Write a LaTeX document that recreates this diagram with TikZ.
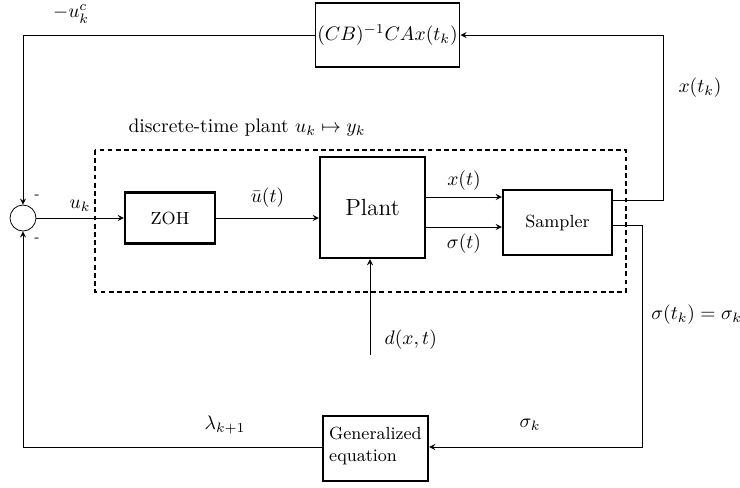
\documentclass[tikz,border=0pt]{standalone}
\usepackage{amsmath}
\usetikzlibrary{shapes.geometric, arrows}
\tikzstyle{block} = [rectangle, draw=black, line width=1.2pt, text centered, inner sep=2pt]
\tikzstyle{sumnode} = [circle, draw=black, minimum size=0.468cm, inner sep=0pt]
\tikzstyle{arrow} = [->, >=stealth]
\tikzstyle{plantbox} = [line width=0.6pt, dash pattern=on 2.4pt off 1.8pt]

\begin{document}
\begin{tikzpicture}

            \useasboundingbox (0,0) rectangle (13.32,-8.766);

            \node (sum) [sumnode] at (0.414,-3.924) {};

            \node (zoh) [block, minimum width=1.62cm, minimum height=0.918cm, font=\small] at (3.06,-3.924) {ZOH};

            \node (plant) [block, minimum width=1.89cm, minimum height=1.818cm, font=\large] at (6.705,-3.735) {Plant};

            \node (sampler) [block, minimum width=1.962cm, minimum height=1.17cm, font=\small] at (10.035,-4.005) {Sampler};

            \node (ctrl) [block, line width=0.9pt, inner sep=1pt, minimum width=2.43cm, minimum height=1.152cm] at (6.975,-0.63) {$(CB)^{-1}CAx(t_k)$};

            \node (geneq) [block, minimum width=1.89cm, minimum height=1.17cm] at (6.759,-8.073) {};
            \node (geneqtext) [font=\small, align=left, anchor=north] at ([yshift=-0.1cm]geneq.north) {Generalized\\equation};

            \coordinate (xk) at (11.934,-0.63);
            \coordinate (sk) at (11.556,-8.046);
            \coordinate (dist) at (6.66,-6.39);

            \draw [plantbox] (1.71,-2.7) rectangle (11.268,-5.256);
            \node (dtlabel) at (4.446,-2.304) {discrete-time plant $u_k \mapsto y_k$};

            \draw [arrow] (ctrl.west) -| (sum.north);
            \draw [arrow] ([yshift=0.405cm]sampler.east) -| (xk) -- (ctrl.east);
            \draw [arrow] ([yshift=-0.045cm]sampler.east) -| (sk) -- (geneq.east |- sk);
            \draw [arrow] (geneq.west |- sk) -| (sum.south);
            \draw [arrow] (sum.east) -- node[anchor=south] {$u_k$} (sum.east -| zoh.west);
            \draw [arrow] (zoh.east) -- node[anchor=south, yshift=2pt] {$\bar{u}(t)$} (zoh.east -| plant.west);
            \draw [arrow] ([yshift=0.189cm]plant.east) -- node[anchor=south] {$x(t)$} ([yshift=0.189cm]plant.east -| sampler.west);
            \draw [arrow] ([yshift=-0.351cm]plant.east) -- node[anchor=north] {$\sigma(t)$} ([yshift=-0.351cm]plant.east -| sampler.west);
            \draw [arrow] (dist) -- (dist |- plant.south);

            \node (uc) at (1.28,-0.25) {$-u_k^c$};
            \node (xtk) at (12.6,-1.584) {$x(t_k)$};
            \node (stk) [anchor=west] at (11.6,-5.67) {$\sigma(t_k)=\sigma_k$};
            \node (sgk) at (9.54,-7.65) {$\sigma_k$};
            \node (lam) at (4.05,-7.65) {$\lambda_{k+1}$};
            \node (dxt) [anchor=west] at (6.8,-6.12) {$d(x,t)$};
            \node (m1) [font=\scriptsize] at (0.666,-3.55) {-};
            \node (m2) [font=\scriptsize] at (0.666,-4.32) {-};

        \end{tikzpicture}
\end{document}
